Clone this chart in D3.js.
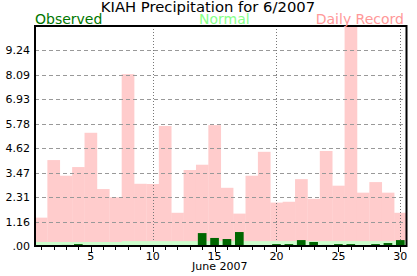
<!DOCTYPE html>
<html>
<head>
<meta charset="utf-8">
<script src="https://cdn.jsdelivr.net/npm/d3@7"></script>
<style>
  body { margin: 0; background: #fff; }
  text { font-family: "DejaVu Sans", sans-serif; }
</style>
</head>
<body>
<script>
// KIAH June 2007 precipitation chart

var days = d3.range(1, 31);

// daily record rainfall (in)
var record = [1.34, 4.06, 3.32, 3.73, 5.35, 2.69, 2.30, 8.12, 2.94, 2.93,
              5.67, 1.57, 3.59, 3.84, 5.71, 2.75, 1.53, 3.32, 4.45, 2.05,
              2.09, 3.16, 2.23, 4.49, 2.85, 10.39, 2.52, 3.02, 2.52, 1.57];

// daily normal rainfall (in)
var normal = [0.19, 0.19, 0.19, 0.19, 0.19, 0.19, 0.19, 0.23, 0.23, 0.23,
              0.23, 0.23, 0.23, 0.23, 0.23, 0.23, 0.23, 0.23, 0.23, 0.23,
              0.23, 0.23, 0.23, 0.23, 0.23, 0.23, 0.23, 0.23, 0.23, 0.23];

// observed rainfall (in)
var observed = [0, 0, 0.05, 0.09, 0, 0, 0, 0, 0, 0,
                0, 0, 0, 0.61, 0.38, 0.33, 0.66, 0, 0, 0.09,
                0.09, 0.28, 0.19, 0.05, 0.09, 0.09, 0, 0.09, 0.14, 0.28];

var yTickValues = [0, 1.155, 2.31, 3.465, 4.62, 5.775, 6.93, 8.085, 9.24];
var yTickLabels = [".00", "1.16", "2.31", "3.47", "4.62", "5.78", "6.93", "8.09", "9.24"];
var xTickLabels = [5, 10, 15, 20, 25, 30];
var yMax = 10.395;

window.onload = function(){
    var width = 417, height = 276;
    var left = 35, right = 406.5, top = 26, bottom = 246;

    var svg = d3.select("body").append("svg")
        .attr("width", width)
        .attr("height", height);

    var x = d3.scaleLinear().domain([0.5, 30.5]).range([left, right]);
    var y = d3.scaleLinear().domain([0, yMax]).range([bottom, top]);
    var step = x(2) - x(1);

    // record bars
    svg.append("g").selectAll("rect")
        .data(days)
        .enter().append("rect")
        .attr("x", function(d){ return x(d - 0.5); })
        .attr("width", step + 0.3)
        .attr("y", function(d, i){ return y(record[i]); })
        .attr("height", function(d, i){ return bottom - y(record[i]); })
        .style("fill", "#ffcccc");

    // horizontal dashed grid
    svg.append("g").selectAll("line")
        .data(yTickValues.slice(1))
        .enter().append("line")
        .attr("x1", left).attr("x2", right)
        .attr("y1", function(d){ return Math.round(y(d)) + 0.5; })
        .attr("y2", function(d){ return Math.round(y(d)) + 0.5; })
        .style("stroke", "#999")
        .style("stroke-dasharray", "4,3");

    // vertical dotted grid
    svg.append("g").selectAll("line")
        .data([10, 20, 30])
        .enter().append("line")
        .attr("x1", function(d){ return Math.round(x(d)) + 0.5; })
        .attr("x2", function(d){ return Math.round(x(d)) + 0.5; })
        .attr("y1", top).attr("y2", bottom)
        .style("stroke", "#777")
        .style("stroke-dasharray", "1,2");

    // normal bars
    svg.append("g").selectAll("rect")
        .data(days)
        .enter().append("rect")
        .attr("x", function(d){ return x(d - 0.5); })
        .attr("width", step + 0.3)
        .attr("y", function(d, i){ return y(normal[i]); })
        .attr("height", function(d, i){ return bottom - y(normal[i]); })
        .style("fill", "#ccffcc");

    // observed bars
    var bw = step * 0.7;
    svg.append("g").selectAll("rect")
        .data(days.filter(function(d, i){ return observed[i] > 0; }))
        .enter().append("rect")
        .attr("x", function(d){ return x(d) - bw / 2; })
        .attr("width", bw)
        .attr("y", function(d){ return y(observed[d - 1]); })
        .attr("height", function(d){ return bottom - y(observed[d - 1]); })
        .style("fill", "#006600");

    // frame
    svg.append("rect")
        .attr("x", left).attr("y", top)
        .attr("width", right - left).attr("height", bottom - top)
        .style("fill", "none")
        .style("stroke", "#000")
        .style("stroke-width", 2);

    // x ticks
    svg.append("g").selectAll("line")
        .data(days)
        .enter().append("line")
        .attr("x1", function(d){ return Math.round(x(d)) + 0.5; })
        .attr("x2", function(d){ return Math.round(x(d)) + 0.5; })
        .attr("y1", bottom)
        .attr("y2", function(d){ return d % 5 === 0 ? bottom + 6 : bottom + 4; })
        .style("stroke", "#000");

    svg.append("g").selectAll("text")
        .data(xTickLabels)
        .enter().append("text")
        .attr("x", function(d){ return x(d); })
        .attr("y", 260)
        .attr("text-anchor", "middle")
        .style("font-size", "11px")
        .text(function(d){ return d; });

    svg.append("text")
        .attr("x", (left + right) / 2 - 1)
        .attr("y", 269.5)
        .attr("text-anchor", "middle")
        .style("font-size", "11px")
        .text("June 2007");

    // y labels
    svg.append("g").selectAll("text")
        .data(yTickValues)
        .enter().append("text")
        .attr("x", 30)
        .attr("y", function(d){ return y(d); })
        .attr("dy", "0.36em")
        .attr("text-anchor", "end")
        .style("font-size", "11px")
        .text(function(d, i){ return yTickLabels[i]; });

    // title and legend
    svg.append("text")
        .attr("x", 208)
        .attr("y", 12)
        .attr("text-anchor", "middle")
        .style("font-size", "14.8px")
        .text("KIAH Precipitation for 6/2007");

    svg.append("text")
        .attr("x", 35).attr("y", 24)
        .style("font-size", "14px")
        .style("fill", "#007700")
        .text("Observed");

    svg.append("text")
        .attr("x", 199).attr("y", 24)
        .style("font-size", "14px")
        .style("fill", "#88ff88")
        .text("Normal");

    svg.append("text")
        .attr("x", 404).attr("y", 24)
        .attr("text-anchor", "end")
        .style("font-size", "14px")
        .style("fill", "#ff9999")
        .text("Daily Record");
};
</script>
</body>
</html>
